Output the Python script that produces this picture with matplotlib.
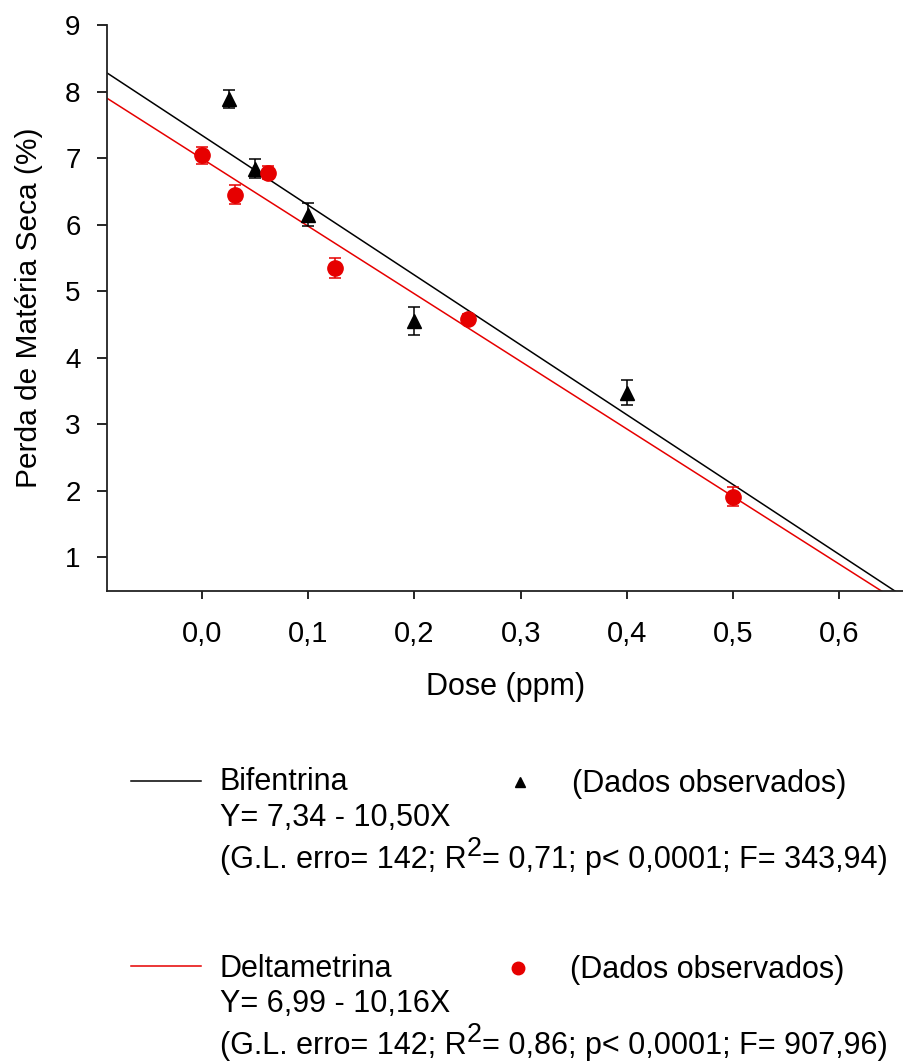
import matplotlib
matplotlib.use("Agg")
import matplotlib.pyplot as plt
from matplotlib.lines import Line2D
import matplotlib.transforms as mtransforms
import numpy as np

plt.rcParams['font.family'] = ['Liberation Sans', 'DejaVu Sans']

# Data
bif_x = [0.025, 0.05, 0.1, 0.2, 0.4]
bif_y = [7.89, 6.84, 6.15, 4.55, 3.47]
bif_err = [0.14, 0.14, 0.17, 0.21, 0.19]

del_x = [0.0, 0.03125, 0.0625, 0.125, 0.25, 0.5]
del_y = [7.04, 6.45, 6.78, 5.35, 4.58, 1.91]
del_err = [0.13, 0.14, 0.10, 0.15, 0.08, 0.14]

bif_fit = (7.34, -10.50)
del_fit = (6.99, -10.16)

xticks = [0.0, 0.1, 0.2, 0.3, 0.4, 0.5, 0.6]
xticklabels = ['0,0', '0,1', '0,2', '0,3', '0,4', '0,5', '0,6']
yticks = [1, 2, 3, 4, 5, 6, 7, 8, 9]

red = '#e60000'

fig = plt.figure(figsize=(9.04, 10.61), dpi=100)
ax = fig.add_axes([0.1184, 0.443, 0.8816, 0.5334])
ax.set_xlim(-0.0895, 0.661)
ax.set_ylim(0.49, 9.0)

xx = np.array([-0.0895, 0.7])
ax.plot(xx, bif_fit[0] + bif_fit[1] * xx, color='black', lw=1.1, zorder=2)
ax.plot(xx, del_fit[0] + del_fit[1] * xx, color=red, lw=1.1, zorder=2)

ax.errorbar(bif_x, bif_y, yerr=bif_err, fmt='^', color='black', ms=10,
            capsize=4, elinewidth=1.1, capthick=1.1, zorder=3)
ax.errorbar(del_x, del_y, yerr=del_err, fmt='o', color=red, ms=11,
            capsize=4, elinewidth=1.1, capthick=1.1, zorder=3)

for s in ['top', 'right']:
    ax.spines[s].set_visible(False)
for s in ['left', 'bottom']:
    ax.spines[s].set_linewidth(1.3)
    ax.spines[s].set_color('#222222')

ax.set_xticks(xticks)
ax.set_xticklabels(xticklabels)
ax.set_yticks(yticks)
ax.tick_params(axis='x', direction='out', length=6, width=1.2, pad=15, labelsize=21)
ax.tick_params(axis='y', direction='out', length=7, width=1.2, pad=12, labelsize=20)

ax.set_xlabel('Dose (ppm)', fontsize=22, labelpad=17)
ax.set_ylabel('Perda de Matéria Seca (%)', fontsize=21.5, labelpad=16)

# Legend block
W, H = 904, 1061
def fx(px):
    return px / W
def fy(py):
    return 1 - py / H

fs = 22
renderer = fig.canvas.get_renderer()

def rich_line(x, y, before, sup, after):
    t1 = fig.text(x, y, before, fontsize=fs, va='baseline')
    bb = t1.get_window_extent(renderer=renderer)
    tr = mtransforms.offset_copy(fig.transFigure, fig=fig, x=bb.width, y=12.5, units='dots')
    t2 = fig.text(x, y, sup, fontsize=fs * 0.88, va='baseline', transform=tr)
    bb2 = t2.get_window_extent(renderer=renderer)
    tr2 = mtransforms.offset_copy(fig.transFigure, fig=fig, x=bb.width + bb2.width, y=0, units='dots')
    fig.text(x, y, after, fontsize=fs, va='baseline', transform=tr2)

fig.add_artist(Line2D([fx(131), fx(201)], [fy(781), fy(781)], color='black', lw=1.1))
fig.text(fx(220), fy(790), 'Bifentrina', fontsize=fs, va='baseline')
fig.add_artist(Line2D([fx(520)], [fy(782)], marker='^', color='black', ms=7, lw=0))
fig.text(fx(572), fy(792), '(Dados observados)', fontsize=fs, va='baseline')
fig.text(fx(220), fy(826), 'Y= 7,34 - 10,50X', fontsize=fs, va='baseline')
rich_line(fx(220), fy(868), '(G.L. erro= 142; R', '2', '= 0,71; p< 0,0001; F= 343,94)')

fig.add_artist(Line2D([fx(131), fx(201)], [fy(966), fy(966)], color=red, lw=1.1))
fig.text(fx(220), fy(977), 'Deltametrina', fontsize=fs, va='baseline')
fig.add_artist(Line2D([fx(518)], [fy(968)], marker='o', color=red, ms=9, lw=0))
fig.text(fx(570), fy(978), '(Dados observados)', fontsize=fs, va='baseline')
fig.text(fx(220), fy(1012), 'Y= 6,99 - 10,16X', fontsize=fs, va='baseline')
rich_line(fx(220), fy(1054), '(G.L. erro= 142; R', '2', '= 0,86; p< 0,0001; F= 907,96)')

fig.savefig('out.png', dpi=100)
